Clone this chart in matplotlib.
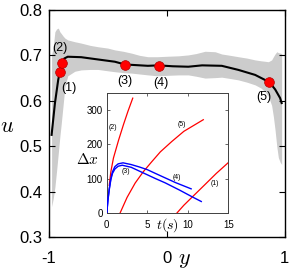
import matplotlib
matplotlib.use("Agg")
import matplotlib.pyplot as plt

plt.rcParams['font.family'] = ['Liberation Sans', 'DejaVu Sans']
plt.rcParams['mathtext.fontset'] = 'cm'

# main profile: mean line
line_y = [-0.977, -0.949, -0.921, -0.907, -0.895, -0.887, -0.87, -0.84, -0.726, -0.584,
          -0.44, -0.356, -0.16, -0.07, 0.05, 0.183, 0.30, 0.467, 0.608, 0.75, 0.871,
          0.92, 0.962, 0.975]
line_u = [0.525, 0.594, 0.646, 0.664, 0.678, 0.684, 0.693, 0.697, 0.696, 0.691,
          0.686, 0.680, 0.677, 0.678, 0.676, 0.675, 0.678, 0.677, 0.668, 0.657, 0.641,
          0.625, 0.606, 0.595]

# grey band (spread)
band_y = [-0.977, -0.963, -0.949, -0.935, -0.92, -0.907, -0.895, -0.878, -0.864, -0.84,
          -0.78, -0.726, -0.65, -0.584, -0.5, -0.44, -0.37, -0.30, -0.23, -0.16,
          -0.08, 0.0, 0.1, 0.183, 0.25, 0.325, 0.41, 0.467, 0.54, 0.608,
          0.68, 0.75, 0.80, 0.834, 0.862, 0.89, 0.905, 0.919, 0.934, 0.947,
          0.962, 0.975]
band_hi = [0.700, 0.720, 0.752, 0.758, 0.760, 0.752, 0.748, 0.742, 0.738, 0.734,
           0.730, 0.727, 0.722, 0.719, 0.716, 0.712, 0.709, 0.705, 0.700, 0.697,
           0.697, 0.698, 0.699, 0.701, 0.704, 0.709, 0.708, 0.703, 0.700, 0.697,
           0.694, 0.690, 0.688, 0.687, 0.686, 0.690, 0.697, 0.703, 0.708, 0.706,
           0.705, 0.704]
band_lo = [0.367, 0.385, 0.410, 0.445, 0.485, 0.521, 0.550, 0.594, 0.631, 0.655,
           0.665, 0.668, 0.669, 0.669, 0.666, 0.664, 0.662, 0.661, 0.659, 0.657,
           0.655, 0.656, 0.657, 0.657, 0.654, 0.650, 0.651, 0.652, 0.649, 0.646,
           0.641, 0.635, 0.628, 0.620, 0.610, 0.590, 0.565, 0.536, 0.499, 0.475,
           0.465, 0.460]

# marked points
pt_y = [-0.907, -0.887, -0.356, -0.068, 0.871]
pt_u = [0.664, 0.683, 0.679, 0.677, 0.641]
pt_names = ['(1)', '(2)', '(3)', '(4)', '(5)']
lab_y = [-0.833, -0.909, -0.352, -0.051, 0.826]
lab_u = [0.629, 0.716, 0.644, 0.639, 0.609]

# inset curves: delta x versus t
red_t = [
    [8.67, 9.5, 10.4, 12.0, 13.5, 15.0],
    [0.3, 0.5, 0.82, 1.45, 2.06, 2.6, 3.2],
    [1.65, 2.5, 3.5, 4.5, 5.5, 6.6, 8.0, 9.5, 11.9],
]
red_dx = [
    [0, 22, 43, 80, 115, 147],
    [80, 120, 160, 212, 258, 296, 335],
    [0, 45, 87, 120, 148, 178, 208, 238, 272],
]
blue_t = [
    [0, 0.15, 0.3, 0.5, 0.7, 1.0, 1.4, 2.0, 3.0, 4.0, 5.0, 6.0, 7.2, 8.5, 10.4],
    [0, 0.15, 0.3, 0.5, 0.7, 1.0, 1.4, 1.9, 3.0, 4.0, 5.0, 6.0, 7.2, 9.0, 10.5, 11.65],
]
blue_dx = [
    [0, 40, 70, 100, 120, 135, 143, 146, 141, 134, 126, 115, 102, 88, 70],
    [0, 38, 67, 97, 115, 128, 136, 139, 133, 122, 111, 100, 87.5, 66, 47, 33],
]
in_names = ['(1)', '(2)', '(3)', '(4)', '(5)']
in_lab_t = [13.3, 0.7, 2.3, 8.7, 9.3]
in_lab_dx = [87, 250, 122, 102, 257]

fig = plt.figure(figsize=(2.91, 2.76), dpi=100)
ax = fig.add_axes([0.168, 0.141, 0.810, 0.823])

ax.fill_between(band_y, band_lo, band_hi, color='0.8', linewidth=0)
ax.plot(line_y, line_u, color='black', lw=1.5)
ax.plot(pt_y, pt_u, 'o', color='red', markersize=7, markeredgecolor='#b00000', markeredgewidth=0.5)
for name, ly, lu in zip(pt_names, lab_y, lab_u):
    ax.text(ly, lu, name, fontsize=9, ha='center', va='center')

ax.set_xlim(-1, 1)
ax.set_ylim(0.3, 0.8)
ax.set_xticks([-1, 0, 1])
ax.set_xticklabels(['-1', '0', '1'])
ax.set_yticks([0.3, 0.4, 0.5, 0.6, 0.7, 0.8])
ax.tick_params(direction='in', top=True, right=True, length=4, width=0.8, labelsize=12)
ax.tick_params(axis='x', pad=10)
ax.tick_params(axis='y', pad=5)
for s in ax.spines.values():
    s.set_linewidth(1.0)
fig.text(7 / 291, 1 - 126 / 276, '$u$', fontsize=16, ha='center', va='center')
fig.text(184 / 291, 1 - 259 / 276, '$y$', fontsize=16, ha='center', va='center')

# inset
ins = fig.add_axes([0.367, 0.229, 0.418, 0.434])
for t, d in zip(red_t, red_dx):
    ins.plot(t, d, color='red', lw=0.9, zorder=2)
for t, d in zip(blue_t, blue_dx):
    ins.plot(t, d, color='blue', lw=1.0, zorder=3)
for name, lt, ld in zip(in_names, in_lab_t, in_lab_dx):
    ins.text(lt, ld, name, fontsize=5, ha='center', va='center')
ins.set_xlim(0, 15)
ins.set_ylim(0, 350)
ins.set_xticks([0, 5, 10, 15])
ins.set_yticks([0, 100, 200, 300])
ins.tick_params(direction='in', top=True, right=True, length=2.5, width=0.6,
                labelsize=7, color='0.3')
ins.tick_params(axis='x', pad=5)
ins.tick_params(axis='y', pad=3)
for s in ins.spines.values():
    s.set_linewidth(0.7)
    s.set_color('0.25')
fig.text(87 / 291, 1 - 159 / 276, r'$\Delta x$', fontsize=11, ha='center', va='center')
fig.text(167 / 291, 1 - 225 / 276, r'$t(s)$', fontsize=10, ha='center', va='center')

fig.savefig('out.png', dpi=100)
